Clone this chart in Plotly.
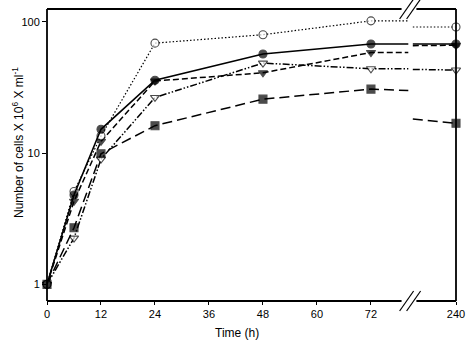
import plotly.graph_objects as go

# ---------------- data ----------------
times = [0, 6, 12, 24, 48, 72]
t_end_label = "240"

open_circle   = [1, 5.1, 13.5, 69, 80, 102]
filled_circle = [1, 4.8, 15.2, 36, 57, 68]
filled_tri    = [1, 4.3, 12.3, 35.5, 41, 58.5]
open_tri      = [1, 2.25, 9.0, 26.6, 48.6, 44]
square        = [1, 2.7, 9.9, 16.2, 25.8, 30.8]

# values at 240 h
end_open_circle, end_filled_circle, end_filled_tri, end_open_tri, end_square = 91.6, 68, 66.5, 43, 16.9
# values where the line is cut at the axis break (left stub end, right stub start)
stub_open_circle   = (102, 91.6)
stub_filled_circle = (68, 68)
stub_filled_tri    = (58.5, 66)
stub_open_tri      = (44, 43.5)
stub_square        = (30, 18.2)

x_ticks = [0, 12, 24, 36, 48, 60, 72]
y_ticks = [1, 10, 100]

# ------------- layout constants -------------
X_END = 90.9          # display position of 240 h
STUB_L, STUB_R = 80.3, 81.3
GAP_L, GAP_R = 78.8, 82.1
BRK = 80.7
FONT = "Arial, Liberation Sans, sans-serif"

fig = go.Figure()

def add_series(vals, end, stub, symbol, dash, width=1.5, color="black", fill="black"):
    xs = times + [STUB_L, None, STUB_R, X_END]
    ys = vals + [stub[0], None, stub[1], end]
    sizes = [8] * len(times) + [0, 0, 0, 8]
    fig.add_trace(go.Scatter(
        x=xs, y=ys, mode="lines+markers", connectgaps=False, cliponaxis=False,
        line=dict(color=color, width=width, dash=dash),
        marker=dict(symbol=symbol, size=sizes, color=fill,
                    line=dict(color="black", width=1.1)),
        showlegend=False, hoverinfo="skip"))

add_series(square, end_square, stub_square, "square", "10px,5px")
add_series(open_tri, end_open_tri, stub_open_tri, "triangle-down", "7px,2px,1.5px,2px,1.5px,2px", fill="white")
add_series(filled_tri, end_filled_tri, stub_filled_tri, "triangle-down", "6px,3px")
add_series(open_circle, end_open_circle, stub_open_circle, "circle", "1.5px,2px", width=1.2, fill="white")
add_series(filled_circle, end_filled_circle, stub_filled_circle, "circle", "solid", width=1.6)

shapes = []
lw = 1.8
shapes.append(dict(type="line", xref="paper", yref="paper", x0=0, x1=0, y0=0, y1=1, line=dict(color="black", width=lw)))
shapes.append(dict(type="line", xref="paper", yref="paper", x0=1, x1=1, y0=0, y1=1, line=dict(color="black", width=lw)))
for yy in (0, 1):
    shapes.append(dict(type="line", xref="x", yref="paper", x0=0, x1=GAP_L, y0=yy, y1=yy, line=dict(color="black", width=lw)))
    shapes.append(dict(type="line", xref="x", yref="paper", x0=GAP_R, x1=X_END, y0=yy, y1=yy, line=dict(color="black", width=lw)))
    for off in (-3.5, 3.5):
        shapes.append(dict(type="line", xref="x", yref="paper",
                           xsizemode="pixel", ysizemode="pixel",
                           xanchor=BRK, yanchor=yy,
                           x0=off - 7, x1=off + 7, y0=-10, y1=10,
                           line=dict(color="black", width=1.2)))

fig.update_layout(
    width=474, height=356,
    margin=dict(l=47, r=11, t=9, b=55),
    paper_bgcolor="white", plot_bgcolor="white",
    font=dict(family=FONT, color="black", size=11),
    shapes=shapes,
    xaxis=dict(range=[0, X_END], tickvals=x_ticks + [X_END],
               ticktext=[str(t) for t in x_ticks] + [t_end_label],
               showgrid=False, zeroline=False, showline=False,
               ticks="outside", ticklen=3, tickwidth=1.2, tickcolor="black",
               ticklabeloverflow="allow",
               tickfont=dict(size=11, family=FONT)),
    yaxis=dict(type="log", range=[-0.127, 2.099], tickvals=y_ticks,
               ticktext=[str(v) for v in y_ticks],
               showgrid=False, zeroline=False, showline=False,
               ticks="outside", ticklen=4, tickwidth=1.2, tickcolor="black",
               tickfont=dict(size=11, family=FONT)),
    annotations=[
        dict(text="Time (h)", xref="paper", yref="paper", x=(240 - 47) / 416, y=0,
             yshift=-32, xanchor="center", yanchor="middle", showarrow=False,
             font=dict(size=12, family=FONT)),
        dict(text="Number of cells X 10<sup>6</sup> X ml<sup>-1</sup>", xref="paper", yref="paper",
             x=0, xshift=-29, y=(301 - 143) / 292, xanchor="center", yanchor="middle",
             textangle=-90, showarrow=False, font=dict(size=12, family=FONT)),
    ],
)

fig.write_html("out.html", config={"displayModeBar": False},
               post_script="document.body.style.margin='0';document.body.style.padding='0';")
